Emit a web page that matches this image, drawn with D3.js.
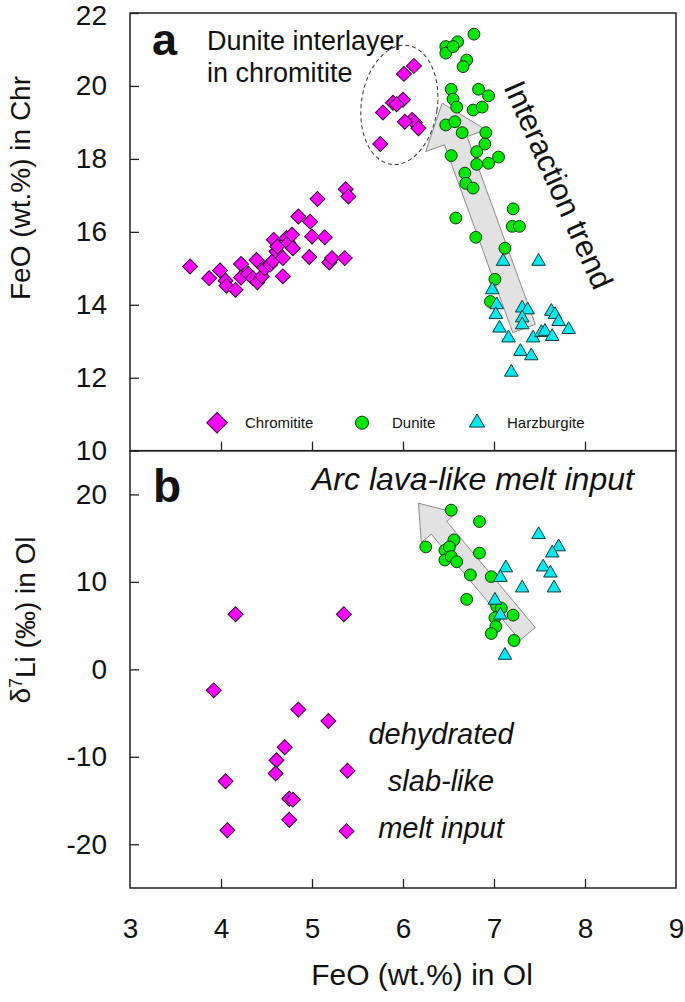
<!DOCTYPE html>
<html>
<head>
<meta charset="utf-8">
<script src="https://cdn.jsdelivr.net/npm/d3@7"></script>
<style>
  body { margin: 0; background: #fff; }
  text { font-family: "Liberation Sans", Arial, sans-serif; fill: #111; }
</style>
</head>
<body>
<div id="chart"></div>
<script>
// ---- data ----
// panel a: FeO in Ol (x) vs FeO in Chr (y)
const chromititeA = [
  [3.66,15.05],[3.87,14.73],[3.99,14.94],[4.05,14.66],[4.06,14.52],[4.16,14.41],
  [4.22,15.12],[4.22,14.75],[4.30,14.85],[4.35,14.73],[4.39,15.23],[4.40,14.62],
  [4.45,14.78],[4.48,15.0],[4.54,15.1],[4.57,15.2],[4.58,15.78],[4.61,15.46],
  [4.62,15.6],[4.68,14.78],[4.68,15.28],[4.72,15.83],[4.74,15.7],[4.78,15.92],
  [4.79,15.55],[4.85,16.42],[4.98,16.28],[5.0,15.87],[4.97,15.31],[5.14,15.85],
  [5.06,16.9],[5.19,15.16],[5.22,15.28],[5.36,15.28],[5.37,17.17],[5.40,16.97],
  // dunite interlayer in chromitite
  [6.12,20.55],[6.01,20.33],[6.0,19.62],[5.89,19.54],[5.93,19.5],[5.78,19.27],
  [6.10,19.07],[6.13,19.0],[6.02,19.02],[6.17,18.84],[5.75,18.41]
];
const duniteA = [
  [6.78,21.42],[6.6,21.21],[6.47,21.08],[6.47,20.9],[6.55,21.08],[6.70,20.71],
  [6.66,20.53],[6.53,19.91],[6.83,19.91],[6.94,19.73],[6.55,19.64],[6.59,19.42],
  [6.77,19.34],[6.87,19.42],[6.47,18.93],[6.57,19.02],[6.65,18.72],[6.91,18.72],
  [6.90,18.41],[6.81,18.2],[6.53,18.09],[7.05,18.05],[6.94,17.88],[6.81,17.85],
  [6.68,17.61],[6.69,17.33],[6.77,17.2],[7.21,16.63],[7.20,16.15],[7.28,16.15],
  [6.58,16.38],[6.80,15.85],[7.12,15.55],[7.01,14.7],[6.96,14.09]
];
const harzburgiteA = [
  [7.10,15.19],[7.49,15.19],[6.98,14.41],[7.03,14.0],[7.02,13.73],[7.06,13.36],
  [7.16,13.09],[7.29,12.72],[7.41,12.6],[7.19,12.15],[7.31,13.91],[7.37,13.86],
  [7.31,13.64],[7.31,13.45],[7.43,13.09],[7.52,13.24],[7.56,13.27],[7.64,13.13],
  [7.63,13.82],[7.67,13.73],[7.71,13.54],[7.82,13.32]
];
// panel b: FeO in Ol (x) vs d7Li in Ol (y)
const chromititeB = [
  [4.16,6.3],[5.35,6.3],[3.92,-2.4],[4.85,-4.6],[5.18,-5.9],[4.70,-8.9],
  [4.61,-10.4],[4.60,-11.9],[4.05,-12.8],[5.39,-11.6],[4.75,-14.8],[4.79,-14.9],
  [4.75,-17.2],[4.07,-18.4],[5.38,-18.5]
];
const duniteB = [
  [6.53,18.2],[6.84,16.9],[6.25,14.0],[6.56,14.8],[6.46,13.6],[6.51,14.0],
  [6.46,12.5],[6.53,12.9],[6.59,12.3],[6.84,13.3],[6.74,10.8],[6.97,10.6],
  [6.70,8.0],[7.03,7.2],[7.08,7.0],[7.21,6.2],[7.01,5.9],[7.02,4.9],
  [6.97,4.1],[7.22,3.3]
];
const harzburgiteB = [
  [7.49,15.4],[7.71,14.0],[7.64,13.3],[7.13,11.6],[7.54,11.7],[7.62,11.0],
  [7.07,10.5],[7.31,9.3],[7.66,9.3],[7.01,7.9],[7.07,6.2],[7.12,1.6]
];
const xTicks = [3, 4, 5, 6, 7, 8, 9];
const yTicksA = [10, 12, 14, 16, 18, 20, 22];
const yTicksB = [-20, -10, 0, 10, 20];
const legendNames = ["Chromitite", "Dunite", "Harzburgite"];

// ---- layout ----
const W = 685, H = 1002;
const pL = 130, pR = 676, pT = 13, pM = 450.7, pB = 888;

const svg = d3.select("#chart").append("svg")
  .attr("width", W).attr("height", H);

const x = d3.scaleLinear().domain([3, 9]).range([pL, pR]);
const yA = d3.scaleLinear().domain([10, 22]).range([pM, pT]);
const yB = d3.scaleLinear().domain([-25, 25]).range([pB, pM]);

const col = { chr: "#ff00ff", dun: "#00e600", harz: "#00e8f0" };
const diamond = s => d3.symbol(d3.symbolSquare, s)();
const circle = s => d3.symbol(d3.symbolCircle, s)();
const tri = s => d3.symbol(d3.symbolTriangle, s)();
const plain = d => String(d); // hyphen minus like the original

// arrow polygon (pixel space)
function arrowPts(x0, y0, x1, y1, sw, hw, hl) {
  const L = Math.hypot(x1 - x0, y1 - y0), ux = (x1 - x0) / L, uy = (y1 - y0) / L;
  const px = -uy, py = ux, bx = x1 - ux * hl, by = y1 - uy * hl;
  return [[x0 + px * sw, y0 + py * sw], [bx + px * sw, by + py * sw], [bx + px * hw, by + py * hw],
    [x1, y1], [bx - px * hw, by - py * hw], [bx - px * sw, by - py * sw], [x0 - px * sw, y0 - py * sw]];
}
function drawArrow(g, p) {
  g.append("polygon").attr("points", p.map(d => d.join(",")).join(" "))
    .attr("fill", "#e2e2e2").attr("stroke", "#8a8a8a").attr("stroke-width", 1);
}

// ---- panel a ----
const ga = svg.append("g");
drawArrow(ga, arrowPts(x(7.33), yA(13.35), x(6.43), yA(19.53), 12, 32, 40));

ga.append("ellipse")
  .attr("transform", `translate(${x(5.96)},${yA(19.48)}) rotate(8)`)
  .attr("rx", 38).attr("ry", 60)
  .attr("fill", "none").attr("stroke", "#333").attr("stroke-width", 1)
  .attr("stroke-dasharray", "4,3");

ga.selectAll(".chrA").data(chromititeA).join("path")
  .attr("d", diamond(112))
  .attr("transform", d => `translate(${x(d[0])},${yA(d[1])}) rotate(45)`)
  .attr("fill", col.chr).attr("stroke", "#3a003a").attr("stroke-width", 1);
ga.selectAll(".dunA").data(duniteA).join("path")
  .attr("d", circle(110))
  .attr("transform", d => `translate(${x(d[0])},${yA(d[1])})`)
  .attr("fill", col.dun).attr("stroke", "#0a3a0a").attr("stroke-width", 1);
ga.selectAll(".harzA").data(harzburgiteA).join("path")
  .attr("d", tri(80))
  .attr("transform", d => `translate(${x(d[0])},${yA(d[1])})`)
  .attr("fill", col.harz).attr("stroke", "#0a3a3a").attr("stroke-width", 1);

// legend
const legY = 422.7;
const leg = ga.append("g");
leg.append("path").attr("d", diamond(210))
  .attr("transform", `translate(217,${legY}) rotate(45)`)
  .attr("fill", col.chr).attr("stroke", "#3a003a");
leg.append("path").attr("d", circle(135))
  .attr("transform", `translate(362,${legY})`)
  .attr("fill", col.dun).attr("stroke", "#0a3a0a");
leg.append("path").attr("d", tri(100))
  .attr("transform", `translate(477,${legY})`)
  .attr("fill", col.harz).attr("stroke", "#0a3a3a");
[[245, 0], [392, 1], [507, 2]].forEach(([lx, i]) => {
  leg.append("text").attr("x", lx).attr("y", legY).attr("dy", "0.36em")
    .style("font-size", "15px").text(legendNames[i]);
});

// annotations a
ga.append("text").attr("x", 152).attr("y", 55)
  .style("font-size", "45px").style("font-weight", "bold").text("a");
ga.append("text").attr("x", 207).attr("y", 50)
  .style("font-size", "27px").text("Dunite interlayer");
ga.append("text").attr("x", 207).attr("y", 82)
  .style("font-size", "27px").text("in chromitite");
ga.append("text")
  .attr("transform", `translate(${x(7.71)},${yA(17.29)}) rotate(66)`)
  .attr("text-anchor", "middle").attr("dy", "0.35em")
  .style("font-size", "31px").text("Interaction trend");

// ---- panel b ----
const gb = svg.append("g");
drawArrow(gb, arrowPts(x(7.37), yB(4.05), x(6.17), yB(19.0), 10, 23, 32));

gb.selectAll(".chrB").data(chromititeB).join("path")
  .attr("d", diamond(112))
  .attr("transform", d => `translate(${x(d[0])},${yB(d[1])}) rotate(45)`)
  .attr("fill", col.chr).attr("stroke", "#3a003a").attr("stroke-width", 1);
gb.selectAll(".dunB").data(duniteB).join("path")
  .attr("d", circle(110))
  .attr("transform", d => `translate(${x(d[0])},${yB(d[1])})`)
  .attr("fill", col.dun).attr("stroke", "#0a3a0a").attr("stroke-width", 1);
gb.selectAll(".harzB").data(harzburgiteB).join("path")
  .attr("d", tri(80))
  .attr("transform", d => `translate(${x(d[0])},${yB(d[1])})`)
  .attr("fill", col.harz).attr("stroke", "#0a3a3a").attr("stroke-width", 1);

gb.append("text").attr("x", 153).attr("y", 502)
  .style("font-size", "46px").style("font-weight", "bold").text("b");
gb.append("text").attr("x", 312).attr("y", 490)
  .style("font-size", "32px").style("font-style", "italic").text("Arc lava-like melt input");
["dehydrated", "slab-like", "melt input"].forEach((t, i) => {
  gb.append("text").attr("x", 441).attr("y", 744 + i * 47)
    .attr("text-anchor", "middle")
    .style("font-size", "29px").style("font-style", "italic").text(t);
});

// ---- axes ----
function styleAxis(g) {
  g.select(".domain").remove();
  g.selectAll(".tick line").attr("stroke", "#222").attr("stroke-width", 1.3);
  g.selectAll(".tick text").style("font-size", "28px").attr("fill", "#111")
    .style("font-family", "Liberation Sans, Arial, sans-serif");
}
const yAxA = svg.append("g").attr("transform", `translate(${pL},0)`)
  .call(d3.axisLeft(yA).tickValues(yTicksA).tickFormat(plain)
    .tickSizeInner(-9).tickSizeOuter(0).tickPadding(23))
  .call(styleAxis);
// keep the top label inside the page
yAxA.selectAll(".tick").filter(d => d === 22).select("text").attr("dy", "0.42em");
svg.append("g").attr("transform", `translate(0,${pM})`)
  .call(d3.axisBottom(x).tickValues(xTicks.slice(1, -1)).tickSizeInner(-9).tickSizeOuter(0).tickFormat(""))
  .call(styleAxis);
svg.append("g").attr("transform", `translate(${pL},0)`)
  .call(d3.axisLeft(yB).tickValues(yTicksB).tickFormat(plain)
    .tickSizeInner(-9).tickSizeOuter(0).tickPadding(23))
  .call(styleAxis);
const xAx = svg.append("g").attr("transform", `translate(0,${pB})`)
  .call(d3.axisBottom(x).tickValues(xTicks).tickFormat(plain)
    .tickSizeInner(-9).tickSizeOuter(0).tickPadding(30))
  .call(styleAxis);
xAx.selectAll(".tick").filter(d => d === 3 || d === 9).select("line").remove();

// frames
[[pT, pM], [pM, pB]].forEach(([t, b]) => {
  svg.append("rect").attr("x", pL).attr("y", t).attr("width", pR - pL).attr("height", b - t)
    .attr("fill", "none").attr("stroke", "#222").attr("stroke-width", 1.5);
});

// axis titles
svg.append("text").attr("x", 422).attr("y", 985)
  .attr("text-anchor", "middle").style("font-size", "30px").text("FeO (wt.%) in Ol");
svg.append("text").attr("transform", "translate(30,188) rotate(-90)")
  .attr("text-anchor", "middle").style("font-size", "28px").text("FeO (wt.%) in Chr");
const yt = svg.append("text").attr("transform", "translate(30,620) rotate(-90)")
  .attr("text-anchor", "middle").style("font-size", "28px");
yt.append("tspan").text("δ");
yt.append("tspan").attr("dy", "-0.45em").style("font-size", "18px").text("7");
yt.append("tspan").attr("dy", "0.45em").text("Li (‰) in Ol");
</script>
</body>
</html>
